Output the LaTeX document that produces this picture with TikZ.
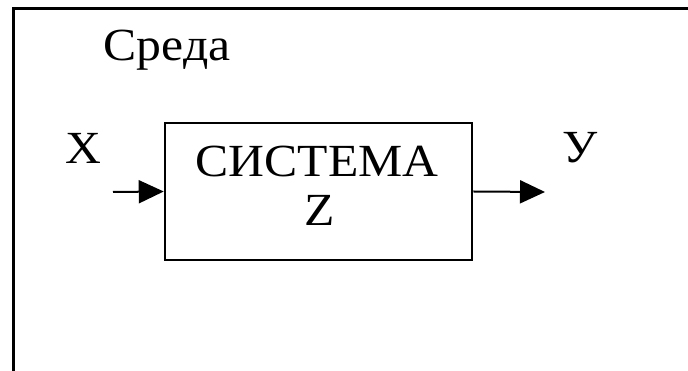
\documentclass[tikz,border=0pt]{standalone}
\usepackage{fontspec}
\setmainfont{Liberation Serif}
\usetikzlibrary{arrows.meta}
\tikzset{
  lbl/.style={inner sep=0pt, font=\fontsize{46}{50}\selectfont},
  frame/.style={line width=3pt},
  sysbox/.style={draw, line width=2.5pt, minimum width=307pt, minimum height=137pt, inner sep=0pt},
  flow/.style={line width=2pt, -{Triangle[length=25pt,width=23pt]}}
}
\begin{document}
\begin{tikzpicture}[x=1pt,y=1pt]
\useasboundingbox (0,0) rectangle (688,371);
\coordinate (fa) at (13,-2);
\coordinate (fb) at (13,362);
\coordinate (fc) at (690,362);
\draw[frame] (fa) -- (fb) -- (fc);
\node[lbl] (env) at (167,321) {\scalebox{1.08}[1]{Среда}};
\node[sysbox] (sys) at (318.5,179.5) {};
\node[lbl] (t1) at (317,209) {\scalebox{1.08}[1]{СИСТЕМА}};
\node[lbl] (t2) at (320,161) {\scalebox{1.08}[1]{Z}};
\node[lbl] (xl) at (83,223) {\scalebox{1.08}[1]{X}};
\node[lbl] (yl) at (580,223) {\scalebox{1.08}[1]{У}};
\coordinate (xin) at (113,179);
\coordinate (yout) at (545,179);
\draw[flow] (xin) -- (sys.west);
\draw[flow] (sys.east) -- (yout);
\end{tikzpicture}
\end{document}
